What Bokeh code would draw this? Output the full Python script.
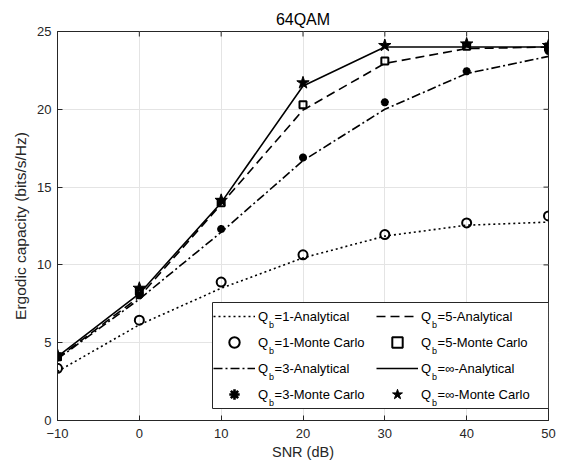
from bokeh.plotting import figure
from bokeh.models import Legend, LegendItem, Label, FixedTicker, Range1d, BoxAnnotation
from bokeh.embed import file_html
from bokeh.resources import INLINE
import math

snr = [-10, 0, 10, 20, 30, 40, 50]
q1_ana = [3.15, 6.15, 8.5, 10.45, 11.85, 12.55, 12.75]
q1_mc = [3.35, 6.45, 8.9, 10.65, 11.95, 12.7, 13.15]
q3_ana = [3.95, 7.8, 12.1, 16.7, 20.0, 22.3, 23.4]
q3_mc = [4.05, 8.05, 12.3, 16.9, 20.45, 22.45, 23.75]
q5_ana = [4.0, 7.95, 13.9, 19.95, 22.95, 23.9, 24.0]
q5_mc = [4.1, 8.3, 14.0, 20.3, 23.1, 24.05, 24.0]
qinf_ana = [4.1, 8.15, 14.0, 21.5, 24.0, 24.0, 24.0]
qinf_mc = [4.2, 8.5, 14.15, 21.7, 24.1, 24.2, 24.1]

x_ticks = [-10, 0, 10, 20, 30, 40, 50]
y_ticks = [0, 5, 10, 15, 20, 25]

# legend labels (subscript "b" is overlaid separately)
qb_values = ["1", "3", "5", "\u221e"]
kinds = ["Analytical", "Monte Carlo"]

FONT = "Liberation Sans"
AX = "#262626"

p = figure(width=556, height=462, x_range=Range1d(x_ticks[0], x_ticks[-1]),
           y_range=Range1d(y_ticks[0], y_ticks[-1]),
           output_backend="svg", toolbar_location=None, title="64QAM",
           min_border_left=57, min_border_right=8, min_border_top=31, min_border_bottom=41,
           x_axis_label="SNR (dB)", y_axis_label="Ergodic capacity (bits/s/Hz)")
p.title.align = "center"
p.title.text_font = FONT
p.title.text_font_size = "16px"
p.title.text_font_style = "normal"
p.title.text_color = "#000000"
p.title.standoff = 8
p.outline_line_color = AX
p.outline_line_width = 1
p.outline_line_alpha = 1

for ax, ticks in ((p.xaxis[0], x_ticks), (p.yaxis[0], y_ticks)):
    ax.ticker = FixedTicker(ticks=ticks)
    ax.major_tick_in = 5
    ax.major_tick_out = 0
    ax.minor_tick_in = 0
    ax.minor_tick_out = 0
    ax.axis_line_color = AX
    ax.major_tick_line_color = AX
    ax.major_label_text_font = FONT
    ax.major_label_text_font_size = "13px"
    ax.major_label_text_color = AX
    ax.axis_label_text_font = FONT
    ax.axis_label_text_font_style = "normal"
    ax.axis_label_text_color = AX
p.xaxis.axis_label_text_font_size = "14.5px"
p.yaxis.axis_label_text_font_size = "15.5px"
p.xaxis.major_label_standoff = 8
p.yaxis.major_label_standoff = 6
p.xaxis.axis_label_standoff = 3
p.yaxis.axis_label_standoff = 5

p.xgrid.ticker = FixedTicker(ticks=x_ticks)
p.ygrid.ticker = FixedTicker(ticks=y_ticks)
p.grid.grid_line_color = "#e4e4e4"
p.grid.grid_line_width = 1

# inward tick marks on the top and right edges of the box (clipped to the frame)
p.scatter(x_ticks, [y_ticks[-1]] * len(x_ticks), marker="dash", angle=math.pi / 2,
          size=10, line_color=AX, line_width=1)
p.scatter([x_ticks[-1]] * len(y_ticks), y_ticks, marker="dash",
          size=10, line_color=AX, line_width=1)

LW = 1.6
r1a = p.line(snr, q1_ana, line_color="black", line_width=LW, line_dash="2 3")
r1m = p.scatter(snr, q1_mc, marker="circle", size=9, line_color="black", line_width=2, fill_alpha=0)
r3a = p.line(snr, q3_ana, line_color="black", line_width=LW, line_dash="9 3 2 3")
r3m = p.scatter(snr, q3_mc, marker="asterisk", size=8, line_color="black", line_width=2.6)
r5a = p.line(snr, q5_ana, line_color="black", line_width=LW, line_dash="9 5")
r5m = p.scatter(snr, q5_mc, marker="square", size=7, line_color="black", line_width=2, fill_alpha=0)
ria = p.line(snr, qinf_ana, line_color="black", line_width=LW)
rim = p.scatter(snr, qinf_mc, marker="star", size=13, line_color="black", fill_color="black")

LEG_X, LEG_Y, LEG_W, LEG_H = 155, 12, 336, 106

# white legend box with its frame (drawn on the canvas, beneath the legend entries)
p.add_layout(BoxAnnotation(left=LEG_X, right=LEG_X + LEG_W, bottom=LEG_Y, top=LEG_Y + LEG_H,
                           left_units="screen", right_units="screen",
                           bottom_units="screen", top_units="screen",
                           fill_color="white", fill_alpha=1, line_color=AX, line_width=1,
                           line_alpha=1, level="annotation"))

# column-major fill: column 1 = Qb 1 / 3, column 2 = Qb 5 / inf
order = [(0, 0, r1a), (0, 1, r1m), (1, 0, r3a), (1, 1, r3m),
         (2, 0, r5a), (2, 1, r5m), (3, 0, ria), (3, 1, rim)]
items = [LegendItem(label="Q\u2002=" + qb_values[q] + "-" + kinds[k], renderers=[r])
         for q, k, r in order]
legend = Legend(items=items, location=(LEG_X, LEG_Y), orientation="vertical", ncols=2,
                glyph_width=42, glyph_height=26, label_height=26, label_width=118,
                spacing=0, padding=1, label_standoff=3, margin=0,
                border_line_alpha=0,
                label_text_font=FONT, label_text_font_size="13px", label_text_color="#000000",
                background_fill_alpha=0)
p.add_layout(legend)

# subscript "b" after each Q (screen units relative to the frame)
for row in range(4):
    for col in range(2):
        lab = Label(x=LEG_X + 1 + 42 + 3 + 10.5 + col * 163,
                    y=LEG_Y + LEG_H - 1 - 13 - row * 26 - 8.5,
                    x_units="screen", y_units="screen", text="b",
                    text_font=FONT, text_font_size="9px", text_color="#000000",
                    text_baseline="alphabetic", text_align="left", level="overlay")
        p.add_layout(lab)

open("out.html", "w").write(file_html(p, INLINE))
